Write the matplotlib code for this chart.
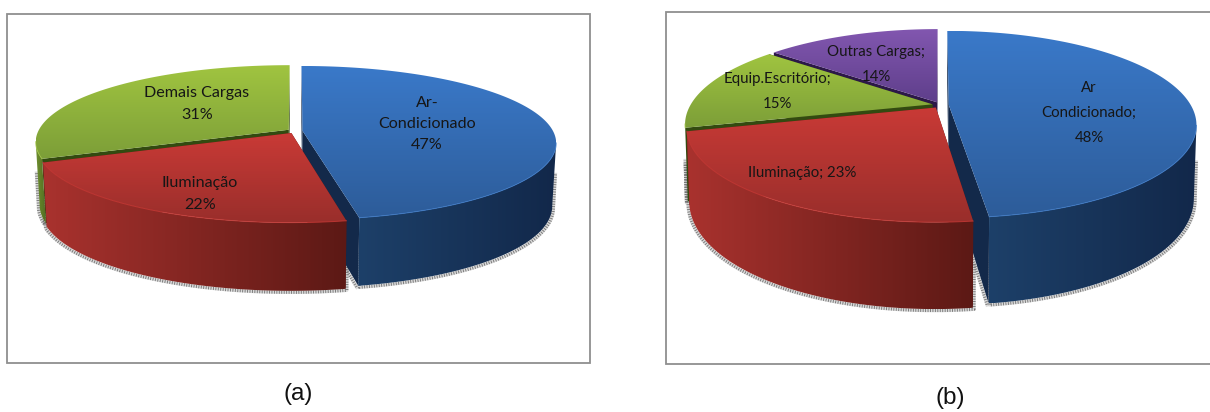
import numpy as np
import matplotlib
matplotlib.use('Agg')
import matplotlib.pyplot as plt
from matplotlib.patches import Polygon, Rectangle
from matplotlib.colors import to_rgb

# values of the two pies, clockwise from 12 o'clock
values_a = [47, 22, 31]
labels_a = ['Ar-\nCondicionado\n{}%', 'Iluminação\n{}%', 'Demais Cargas\n{}%']
values_b = [48, 23, 15, 14]
labels_b = ['Ar\nCondicionado;\n{}%', 'Iluminação; {}%', 'Equip.Escritório;\n{}%', 'Outras Cargas;\n{}%']

# top start, top end, side start, side end, cut face
blue = ['#3a79c9', '#2d5c99', '#1d4069', '#12284a', '#13294a']
red = ['#c93a36', '#992e2b', '#a9322e', '#5c1915', '#5c1915']
green = ['#a0c440', '#7c9e38', '#6f8f30', '#4f6a20', '#334a10']
purple = ['#8257b0', '#5f3f8b', '#5f3f8b', '#452c68', '#2c1848']

geo_a = dict(cx=295, cy=131, rx=250.5, ry=75, k=0.156, e=0.030, d=62, a=0.10, shrink=0.985)
geo_b = dict(cx=940.5, cy=105, rx=242, ry=89.5, k=0.209, e=0.034, d=69.5, a=0.25, shrink=0.99)

fig = plt.figure(figsize=(12.10, 4.12), dpi=100)
ax = fig.add_axes([0, 0, 1, 1])
ax.axis('off')


def top_pts(u, v, g):
    d = 1 - g['k'] * v
    return g['cx'] + g['rx'] * u / d, g['cy'] + g['ry'] * v / d


def gradient(pts, c1, c2, horizontal, z):
    pts = np.array(pts)
    ramp = np.linspace(to_rgb(c1), to_rgb(c2), 128)
    img = ramp[None, :, :] if horizontal else ramp[:, None, :]
    x0, y0 = pts.min(axis=0)
    x1, y1 = pts.max(axis=0)
    im = ax.imshow(img, extent=(x0, x1, y1, y0), aspect='auto', zorder=z, interpolation='bilinear')
    im.set_clip_path(Polygon(pts, transform=ax.transData))


def shadow(x, y, base):
    ax.plot(x, y, color='#c4c4c4', lw=2.4, alpha=0.6, zorder=base - 2)
    ax.plot(x, y, color='#777777', lw=2.2, ls=(0, (0.3, 0.5)), zorder=base - 1)


def draw_pie(values, colors, g, base):
    fracs = np.cumsum([0] + values) / sum(values) * 2 * np.pi
    order = [0] + list(range(len(values) - 1, 0, -1))
    # the wall shows from where the rim is widest on the screen
    t_in = np.arccos(-g['k'])
    t_out = 2 * np.pi - t_in

    z = base
    for i in order:
        c = colors[i]
        t0, t1 = fracs[i], fracs[i + 1]
        mid = (t0 + t1) / 2
        ou, ov = g['e'] * np.sin(mid), -g['e'] * np.cos(mid)
        t = np.linspace(t0, t1, 240)
        vr = -np.cos(t)
        rx, ry = top_pts(ou + np.sin(t), ov + vr, g)
        ax0, ay0 = top_pts(ou, ov, g)
        bx = g['cx'] + (rx - g['cx']) * g['shrink']
        by = ry + g['d'] * (1 + g['a'] * vr)
        abx = g['cx'] + (ax0 - g['cx']) * g['shrink']
        aby = ay0 + g['d']

        # two cut faces
        for j in (0, -1):
            ax.add_patch(Polygon([(ax0, ay0), (rx[j], ry[j]), (bx[j], by[j]), (abx, aby)],
                                 facecolor=c[4], edgecolor='none', zorder=z))
        front = (t >= t_in) & (t <= t_out)
        if front.sum() > 1:
            wall = list(zip(rx[front], ry[front])) + list(zip(bx[front][::-1], by[front][::-1]))
            gradient(wall, c[2], c[3], True, z + 1)
            # thin speckled shadow hugging the lower half of the wall
            sx = np.r_[(rx[front][0] + bx[front][0]) / 2, bx[front], (rx[front][-1] + bx[front][-1]) / 2]
            sy = np.r_[(ry[front][0] + by[front][0]) / 2, by[front] + 1.5, (ry[front][-1] + by[front][-1]) / 2]
            sx = sx + np.sign(sx - g['cx']) * 1.2
            shadow(sx, sy, base)
        if i == 0:
            shadow([abx - 1.5, bx[-1] - 1.5], [aby + 1, by[-1] + 1.5], base)
        # top
        gradient([(ax0, ay0)] + list(zip(rx, ry)), c[0], c[1], False, z + 2)
        if front.sum() > 1:
            ax.plot(rx[front], ry[front], color=c[0], lw=0.7, alpha=0.8, zorder=z + 3)
        z += 4


# frames
ax.add_patch(Rectangle((7, 14), 583, 349, fc='white', ec='#8f8f8f', lw=1.3, zorder=1))
ax.add_patch(Rectangle((666, 12), 560, 352, fc='white', ec='#8f8f8f', lw=1.3, zorder=1))

draw_pie(values_a, [blue, red, green], geo_a, 10)
draw_pie(values_b, [blue, red, green, purple], geo_b, 40)

font_a = dict(family=['Lato', 'DejaVu Sans'], fontsize=11.6, color='#161616', ha='center', va='center',
              linespacing=1.68, zorder=90)
font_b = dict(family=['Lato', 'DejaVu Sans'], fontsize=10.8, color='#161616',
              ha='center', va='center', linespacing=2.0, zorder=90)

pos_a = [(427, 124), (200, 194), (197, 104)]
pos_b = [(1089, 113), (802, 173), (777, 91), (876, 64)]
for lab, val, p in zip(labels_a, values_a, pos_a):
    ax.text(p[0], p[1], lab.format(val), **font_a)
for lab, val, p in zip(labels_b, values_b, pos_b):
    ax.text(p[0], p[1], lab.format(val), **font_b)

ax.text(298, 394, '(a)', family='Liberation Sans', fontsize=17.5, color='#111111', ha='center', va='center')
ax.text(950, 398, '(b)', family='Liberation Sans', fontsize=17.5, color='#111111', ha='center', va='center')

ax.set_xlim(0, 1210)
ax.set_ylim(412, 0)
fig.savefig('out.png', dpi=100, facecolor='white')
